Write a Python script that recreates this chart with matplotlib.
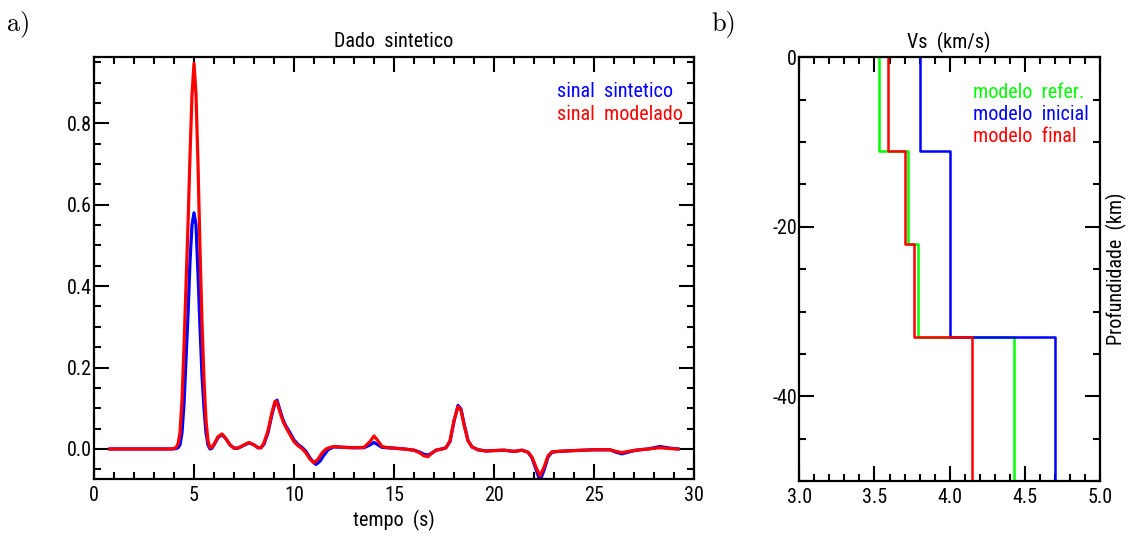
import matplotlib
matplotlib.use("Agg")
import matplotlib.pyplot as plt
from matplotlib import font_manager as fm
from matplotlib.ticker import MultipleLocator, FormatStrFormatter

# ---------------- data: panel a (synthetic vs modelled signal) ----------------
t_red = [0.8, 2.0, 3.0, 3.8, 4.0, 4.1, 4.2, 4.3, 4.4, 4.5, 4.6, 4.7, 4.8, 4.9, 5.0,
         5.1, 5.2, 5.3, 5.4, 5.5, 5.6, 5.7, 5.8, 5.9, 6.0, 6.2, 6.4, 6.6, 6.8, 7.0,
         7.2, 7.5, 7.75, 8.0, 8.2, 8.35, 8.5, 8.7, 8.9, 9.05, 9.15, 9.3, 9.45, 9.6,
         9.8, 10.0, 10.2, 10.4, 10.6, 10.8, 11.0, 11.2, 11.4, 11.6, 11.8, 12.0, 12.5,
         13.0, 13.5, 13.8, 14.0, 14.2, 14.4, 14.7, 15.0, 15.5, 16.0, 16.3, 16.5, 16.7,
         16.9, 17.1, 17.4, 17.6, 17.8, 18.0, 18.2, 18.35, 18.5, 18.7, 18.9, 19.2, 19.6,
         20.0, 20.5, 21.0, 21.4, 21.7, 21.9, 22.1, 22.3, 22.5, 22.7, 22.9, 23.2, 24.0,
         25.0, 25.8, 26.1, 26.4, 26.7, 27.1, 27.7, 28.3, 28.8, 29.2]
y_red = [0.0, 0.0, 0.0, 0.0, 0.001, 0.004, 0.012, 0.04, 0.12, 0.25, 0.40, 0.55, 0.72, 0.87, 0.947,
         0.87, 0.70, 0.49, 0.31, 0.17, 0.07, 0.02, 0.003, 0.004, 0.012, 0.03, 0.037, 0.025, 0.01, 0.002,
         0.002, 0.010, 0.016, 0.010, 0.003, 0.003, 0.015, 0.045, 0.09, 0.117, 0.115, 0.09, 0.068, 0.053,
         0.035, 0.018, 0.008, 0.001, -0.010, -0.025, -0.034, -0.025, -0.010, 0.0, 0.004, 0.006, 0.004,
         0.003, 0.004, 0.018, 0.032, 0.020, 0.006, 0.003, 0.002, 0.0, -0.003, -0.010, -0.017, -0.019,
         -0.010, -0.003, 0.0, 0.003, 0.020, 0.070, 0.104, 0.095, 0.060, 0.020, 0.005, -0.002, -0.005,
         -0.004, -0.003, -0.006, -0.003, -0.008, -0.020, -0.045, -0.066, -0.045, -0.017, -0.007, -0.006, -0.004,
         -0.002, -0.002, -0.006, -0.009, -0.006, -0.003, 0.0, 0.003, 0.001, 0.0]

t_blue = [0.8, 2.0, 3.0, 3.9, 4.1, 4.2, 4.3, 4.4, 4.5, 4.6, 4.7, 4.8, 4.9, 5.0,
          5.1, 5.2, 5.3, 5.4, 5.5, 5.6, 5.7, 5.8, 5.9, 6.0, 6.2, 6.4, 6.6, 6.8, 7.0,
          7.2, 7.5, 7.75, 8.0, 8.2, 8.35, 8.5, 8.7, 8.9, 9.05, 9.15, 9.3, 9.45, 9.6,
          9.8, 10.0, 10.2, 10.4, 10.6, 10.8, 11.0, 11.1, 11.3, 11.5, 11.7, 11.9, 12.0, 12.5,
          13.0, 13.5, 13.8, 14.0, 14.2, 14.4, 14.7, 15.0, 15.5, 16.0, 16.3, 16.5, 16.7,
          16.9, 17.1, 17.4, 17.6, 17.8, 18.0, 18.2, 18.35, 18.5, 18.7, 18.9, 19.2, 19.6,
          20.0, 20.5, 21.0, 21.4, 21.7, 21.9, 22.1, 22.3, 22.5, 22.7, 22.9, 23.2, 24.0,
          25.0, 25.8, 26.1, 26.4, 26.7, 27.1, 27.7, 28.3, 28.8, 29.2]
y_blue = [0.0, 0.0, 0.0, 0.0, 0.001, 0.003, 0.010, 0.040, 0.110, 0.220, 0.330, 0.460, 0.550, 0.580,
          0.550, 0.430, 0.300, 0.180, 0.100, 0.040, 0.010, 0.0, 0.002, 0.010, 0.028, 0.035, 0.025, 0.010, 0.002,
          0.002, 0.009, 0.015, 0.010, 0.003, 0.003, 0.012, 0.040, 0.085, 0.113, 0.120, 0.095, 0.072, 0.056,
          0.040, 0.022, 0.011, 0.004, -0.006, -0.022, -0.034, -0.038, -0.030, -0.015, -0.002, 0.003, 0.005, 0.004,
          0.003, 0.003, 0.010, 0.016, 0.010, 0.004, 0.003, 0.002, 0.0, -0.003, -0.008, -0.013, -0.015,
          -0.010, -0.003, 0.0, 0.003, 0.018, 0.068, 0.107, 0.098, 0.062, 0.021, 0.005, -0.002, -0.005,
          -0.004, -0.003, -0.006, -0.003, -0.008, -0.022, -0.050, -0.078, -0.052, -0.020, -0.008, -0.006, -0.004,
          -0.002, -0.002, -0.008, -0.012, -0.008, -0.003, 0.0, 0.006, 0.002, 0.0]

# ---------------- data: panel b (Vs profiles) ----------------
layer_depths = [0, -11, -22, -33, -50]          # layer interfaces (km)
vs_refer = [3.53, 3.72, 3.79, 4.43]            # modelo refer.
vs_inicial = [3.80, 4.00, 4.00, 4.70]          # modelo inicial
vs_final = [3.59, 3.70, 3.76, 4.15]            # modelo final

# ---------------- fonts ----------------
ttf = fm.fontManager.ttflist
avail = {f.name for f in ttf}
MAIN = None
STRETCH = 'normal'
for name in ['Liberation Sans Narrow', 'Roboto Condensed', 'Open Sans Condensed',
             'Noto Sans Condensed', 'DejaVu Sans Condensed']:
    if name in avail:
        MAIN = name
        break
if MAIN is None:
    cond = [f for f in ttf if f.name in ('DejaVu Sans', 'Noto Sans', 'Open Sans', 'Roboto', 'Inter')
            and str(f.stretch) in ('condensed', 'semi-condensed', '75', '87.5', 'extra-condensed')
            and f.style == 'normal']
    if cond:
        MAIN = cond[0].name
        STRETCH = cond[0].stretch
    else:
        MAIN = 'DejaVu Sans'
        STRETCH = 'condensed'
SERIF = 'cmr10' if 'cmr10' in avail else 'DejaVu Serif'
plt.rcParams['font.family'] = [MAIN, 'DejaVu Sans']
plt.rcParams['font.stretch'] = STRETCH
plt.rcParams['axes.unicode_minus'] = False
FS = 14.5

W, H = 1132, 536
fig = plt.figure(figsize=(W / 100, H / 100), dpi=100)


def fx(px):
    return px / W


def fy(py):
    return 1 - py / H


def style_axes(ax):
    for s in ax.spines.values():
        s.set_linewidth(1.6)
    ax.tick_params(which='both', direction='in', top=True, right=True,
                   width=1.5, labelsize=FS)
    ax.tick_params(which='major', length=10.5)
    ax.tick_params(which='minor', length=5)
    ax.tick_params(axis='y', which='both', pad=1.5)
    ax.tick_params(axis='x', which='both', pad=5)


# ---------------- panel a ----------------
axa = fig.add_axes([fx(94), fy(479.3), fx(694) - fx(94), fy(57.3) - fy(479.3)])
axa.plot(t_blue, y_blue, color='#0000ff', lw=2.3, solid_joinstyle='round')
axa.plot(t_red, y_red, color='#ff0000', lw=2.3, solid_joinstyle='round')
axa.set_xlim(0, 30)
axa.set_ylim(-0.0745, 0.962)
axa.xaxis.set_major_locator(MultipleLocator(5))
axa.xaxis.set_minor_locator(MultipleLocator(1))
axa.yaxis.set_major_locator(MultipleLocator(0.2))
axa.yaxis.set_minor_locator(MultipleLocator(0.05))
axa.yaxis.set_major_formatter(FormatStrFormatter('%.1f'))
style_axes(axa)

fig.text(fx(394), fy(47), 'Dado  sintetico', ha='center', va='baseline', fontsize=FS)
fig.text(fx(394), fy(520), 'tempo  (s)', ha='center', va='center', fontsize=FS)
fig.text(fx(557), fy(92), 'sinal  sintetico', ha='left', va='center', fontsize=FS, color='#0000ff')
fig.text(fx(557), fy(114), 'sinal  modelado', ha='left', va='center', fontsize=FS, color='#ff0000')

# ---------------- panel b ----------------
axb = fig.add_axes([fx(799.3), fy(481), fx(1100) - fx(799.3), fy(57.3) - fy(481)])


def profile(vs):
    xs, ys = [], []
    for i, v in enumerate(vs):
        xs += [v, v]
        ys += [layer_depths[i], layer_depths[i + 1]]
    return xs, ys


for vs, col in [(vs_refer, '#00ff00'), (vs_inicial, '#0000ff'), (vs_final, '#ff0000')]:
    xs, ys = profile(vs)
    axb.plot(xs, ys, color=col, lw=1.8)

axb.set_xlim(3.0, 5.0)
axb.set_ylim(-50, 0)
axb.xaxis.set_major_locator(MultipleLocator(0.5))
axb.xaxis.set_minor_locator(MultipleLocator(0.1))
axb.yaxis.set_major_locator(MultipleLocator(20))
axb.yaxis.set_minor_locator(MultipleLocator(5))
axb.xaxis.set_major_formatter(FormatStrFormatter('%.1f'))
axb.yaxis.set_major_formatter(FormatStrFormatter('%d'))
style_axes(axb)

fig.text(fx(949), fy(48), 'Vs  (km/s)', ha='center', va='baseline', fontsize=FS)
fig.text(fx(1116), fy(269), 'Profundidade  (km)', ha='center', va='center',
         rotation=90, fontsize=FS)
fig.text(fx(973), fy(92.5), 'modelo  refer.', ha='left', va='center', fontsize=FS, color='#00ff00')
fig.text(fx(973), fy(115), 'modelo  inicial', ha='left', va='center', fontsize=FS, color='#0000ff')
fig.text(fx(973), fy(136.5), 'modelo  final', ha='left', va='center', fontsize=FS, color='#ff0000')

# panel labels
fig.text(fx(7), fy(24), 'a)', ha='left', va='center', fontsize=19, family=SERIF, stretch='normal')
fig.text(fx(711), fy(24), 'b)', ha='left', va='center', fontsize=19, family=SERIF, stretch='normal')

fig.savefig('out.png', dpi=100)
